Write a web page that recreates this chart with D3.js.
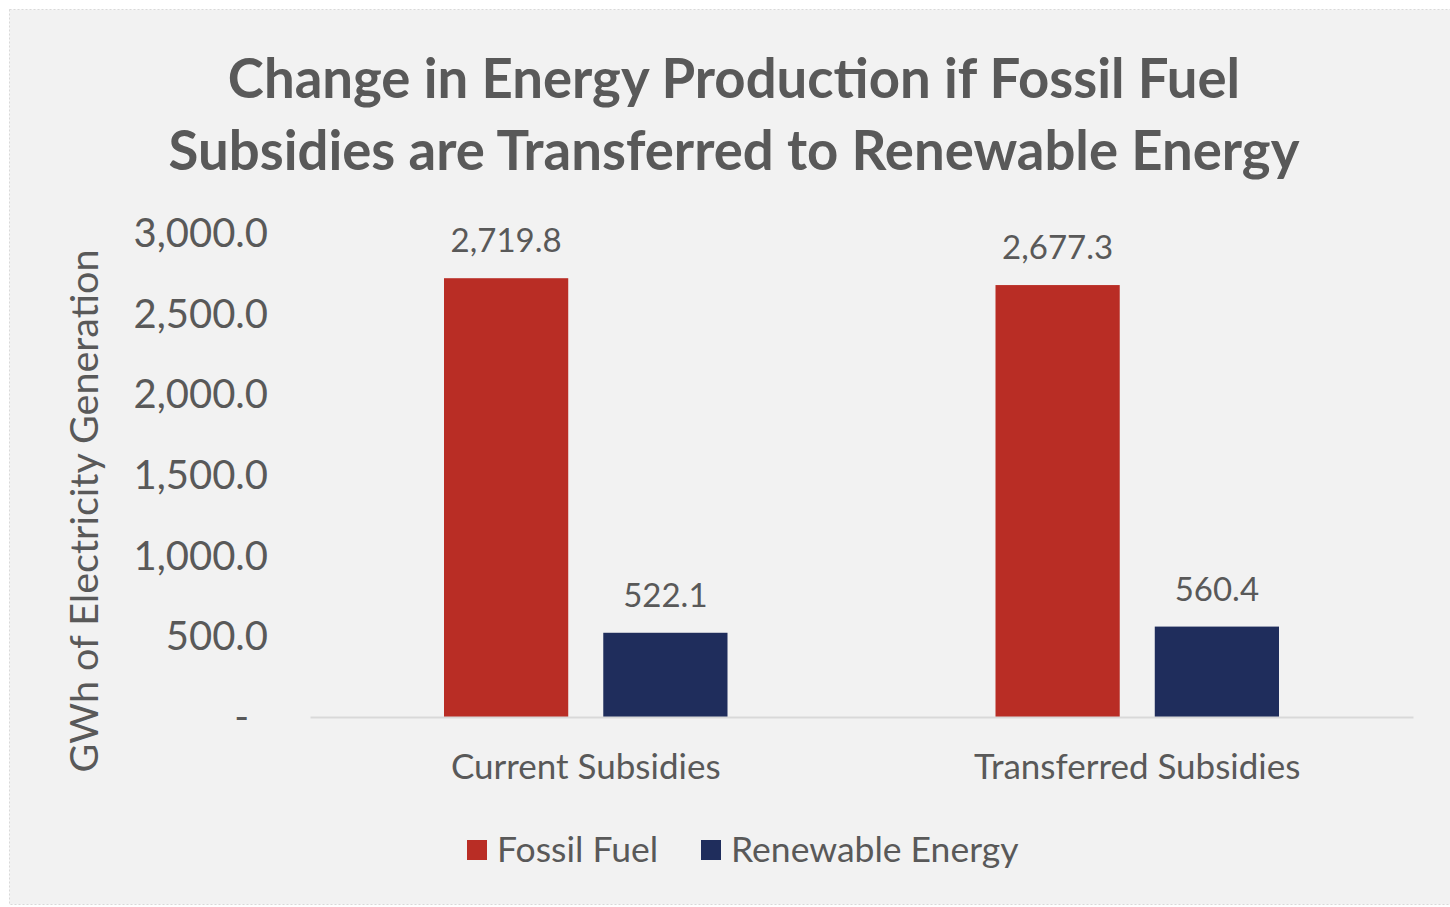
<!DOCTYPE html>
<html>
<head>
<meta charset="utf-8">
<script src="https://cdn.jsdelivr.net/npm/d3@7"></script>
<style>
  html, body { margin: 0; padding: 0; background: #ffffff; }
  svg { display: block; }
  text { font-family: Lato, "Open Sans", sans-serif; fill: #595959; }
</style>
</head>
<body>
<svg id="chart" width="1450" height="907"></svg>
<script>
// chart data
const categories = ["Current Subsidies", "Transferred Subsidies"];
const seriesNames = ["Fossil Fuel", "Renewable Energy"];
const fossilValues = [2719.8, 2677.3];
const renewableValues = [522.1, 560.4];
const yTicks = [0, 500, 1000, 1500, 2000, 2500, 3000];
const titleLines = ["Change in Energy Production if Fossil Fuel", "Subsidies are Transferred to Renewable Energy"];

const colors = { "Fossil Fuel": "#b92d25", "Renewable Energy": "#1f2d5c" };

const rows = categories.map((c, i) => ({
    category: c,
    values: [
        { series: "Fossil Fuel", value: fossilValues[i] },
        { series: "Renewable Energy", value: renewableValues[i] }
    ]
}));

const svg = d3.select("#chart");

// panel
svg.append("rect")
    .attr("x", 9.5).attr("y", 9.5)
    .attr("width", 1450).attr("height", 895)
    .attr("fill", "#f2f2f2")
    .attr("stroke", "#d9d9d9")
    .attr("stroke-dasharray", "2,2");

// title
svg.append("g").selectAll("text")
    .data(titleLines)
    .join("text")
    .attr("x", 734)
    .attr("y", (d, i) => 98 + i * 72)
    .attr("text-anchor", "middle")
    .attr("font-size", 54.5)
    .attr("font-weight", "bold")
    .text(d => d);

const plot = { left: 310, right: 1413, top: 233, bottom: 717 };

const y = d3.scaleLinear().domain([0, 3000]).range([plot.bottom, plot.top]);
const x0 = d3.scaleBand().domain(categories).range([plot.left, plot.right]).padding(0);
const x1 = d3.scaleBand().domain(seriesNames)
    .range([134, x0.bandwidth() - 134])
    .paddingInner(0.22).paddingOuter(0);

// y tick labels (no axis line)
const fmt = d3.format(",.1f");
svg.append("g").selectAll("text")
    .data(yTicks)
    .join("text")
    .attr("x", d => d === 0 ? 249 : 268)
    .attr("y", d => y(d))
    .attr("dy", "0.35em")
    .attr("text-anchor", "end")
    .attr("font-size", 40)
    .text(d => d === 0 ? "-" : fmt(d));

// y title
svg.append("text")
    .attr("transform", `translate(98, ${(plot.top + plot.bottom) / 2 + 36}) rotate(-90)`)
    .attr("text-anchor", "middle")
    .attr("font-size", 39.5)
    .text("GWh of Electricity Generation");

// bars
const groups = svg.append("g").selectAll("g")
    .data(rows)
    .join("g")
    .attr("transform", d => `translate(${x0(d.category)},0)`);

groups.selectAll("rect")
    .data(d => d.values)
    .join("rect")
    .attr("x", d => x1(d.series))
    .attr("width", x1.bandwidth())
    .attr("y", d => y(d.value))
    .attr("height", d => y(0) - y(d.value))
    .attr("fill", d => colors[d.series]);

groups.selectAll("text")
    .data(d => d.values)
    .join("text")
    .attr("x", d => x1(d.series) + x1.bandwidth() / 2)
    .attr("y", d => y(d.value) - 26)
    .attr("text-anchor", "middle")
    .attr("font-size", 33)
    .text(d => fmt(d.value));

// category axis
const xAxis = svg.append("g")
    .attr("transform", `translate(0,${plot.bottom})`)
    .call(d3.axisBottom(x0).tickSize(0).tickPadding(62));
xAxis.select(".domain").attr("stroke", "#d9d9d9").attr("stroke-width", 2);
xAxis.selectAll("text")
    .attr("font-size", 35)
    .attr("fill", "#595959")
    .attr("font-family", "Lato, 'Open Sans', sans-serif")
    .attr("dy", 0);

// legend
const legend = svg.append("g").attr("transform", "translate(467, 850)");
const legendX = [0, 234];
const items = legend.selectAll("g")
    .data(seriesNames)
    .join("g")
    .attr("transform", (d, i) => `translate(${legendX[i]},0)`);
items.append("rect")
    .attr("x", 0).attr("y", -10)
    .attr("width", 20).attr("height", 20)
    .attr("fill", d => colors[d]);
items.append("text")
    .attr("x", 30)
    .attr("y", 0)
    .attr("dy", "0.35em")
    .attr("font-size", 35.5)
    .text(d => d);
</script>
</body>
</html>
